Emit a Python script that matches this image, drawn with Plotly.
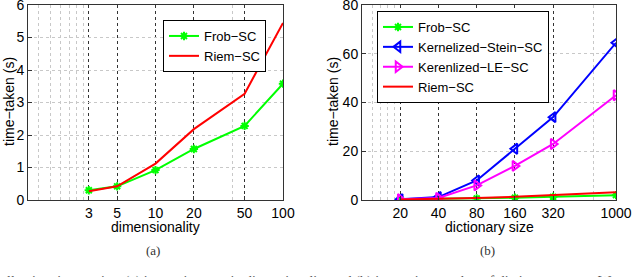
import plotly.graph_objects as go

# ---- data ----
dims = [3, 5, 10, 20, 50, 100]
frob_a = [0.30, 0.42, 0.92, 1.57, 2.28, 3.58]
riem_a = [0.27, 0.42, 1.12, 2.18, 3.27, 5.45]

dict_sizes = [20, 40, 80, 160, 320, 1000]
frob_b = [0.3, 0.4, 0.6, 0.9, 1.3, 2.0]
stein_b = [0.3, 1.2, 8.0, 21.0, 34.0, 64.5]
le_b = [0.3, 0.8, 6.0, 14.0, 23.0, 43.0]
riem_b = [0.2, 0.4, 0.8, 1.3, 2.0, 3.2]

xticks_a = [3, 5, 10, 20, 50, 100]
xticks_b = [20, 40, 80, 160, 320, 1000]
yticks_a = [0, 1, 2, 3, 4, 5, 6]
yticks_b = [0, 20, 40, 60, 80]
minor_a = [1.2, 1.5, 1.8, 2.1, 2.4, 2.7, 40]
minor_b = [12, 14, 16, 18, 660]

GREEN = "#00FF00"
RED = "#FF0000"
BLUE = "#0000FF"
MAG = "#FF00FF"
FONT = "Liberation Sans, Arial, sans-serif"
SERIF = "Liberation Serif, serif"

fig = go.Figure()

# left panel
fig.add_trace(go.Scatter(x=dims, y=frob_a, name="Frob−SC", mode="lines+markers",
                         line=dict(color=GREEN, width=2),
                         marker=dict(symbol="asterisk-open", size=7, line=dict(color=GREEN, width=2)),
                         xaxis="x", yaxis="y", legend="legend"))
fig.add_trace(go.Scatter(x=dims, y=riem_a, name="Riem−SC", mode="lines",
                         line=dict(color=RED, width=2),
                         xaxis="x", yaxis="y", legend="legend"))

# right panel
fig.add_trace(go.Scatter(x=dict_sizes, y=frob_b, name="Frob−SC", mode="lines+markers",
                         line=dict(color=GREEN, width=2),
                         marker=dict(symbol="asterisk-open", size=7, line=dict(color=GREEN, width=2)),
                         xaxis="x2", yaxis="y2", legend="legend2"))
fig.add_trace(go.Scatter(x=dict_sizes, y=stein_b, name="Kernelized−Stein−SC", mode="lines+markers",
                         line=dict(color=BLUE, width=2),
                         marker=dict(symbol="triangle-left-open", size=9, line=dict(color=BLUE, width=2)),
                         xaxis="x2", yaxis="y2", legend="legend2"))
fig.add_trace(go.Scatter(x=dict_sizes, y=le_b, name="Kerenlized−LE−SC", mode="lines+markers",
                         line=dict(color=MAG, width=2),
                         marker=dict(symbol="triangle-right-open", size=9, line=dict(color=MAG, width=2)),
                         xaxis="x2", yaxis="y2", legend="legend2"))
fig.add_trace(go.Scatter(x=dict_sizes, y=riem_b, name="Riem−SC", mode="lines",
                         line=dict(color=RED, width=2),
                         xaxis="x2", yaxis="y2", legend="legend2"))

W, H = 640, 277
L, R, T, B = 28, 24, 5, 77
pw = W - L - R
ph = H - T - B


def px_x(p):
    return (p - L) / pw


def px_y(p):
    return (H - B - p) / ph


axis_common = dict(showline=True, linecolor="#333333", linewidth=1, mirror=True,
                   ticks="inside", ticklen=4, tickcolor="#333333",
                   tickfont=dict(family=FONT, size=14, color="black"),
                   zeroline=False, automargin=False, ticklabeloverflow="allow")

xa = dict(axis_common, type="log", tickmode="array",
          showgrid=True, gridcolor="#333333", griddash="dot", gridwidth=1)

fig.update_layout(
    width=W, height=H,
    margin=dict(l=L, r=R, t=T, b=B, autoexpand=False),
    paper_bgcolor="white", plot_bgcolor="white",
    xaxis=dict(xa, domain=[0, px_x(283)], range=[0, 2], tickvals=xticks_a,
               ticktext=[str(v) for v in xticks_a], anchor="y",
               minor=dict(tickvals=minor_a, showgrid=True, gridcolor="#c8c8c8",
                          griddash="dot", gridwidth=1, ticks="")),
    xaxis2=dict(xa, domain=[px_x(362), 1], range=[1, 3], tickvals=xticks_b,
                ticktext=[str(v) for v in xticks_b], anchor="y2",
                minor=dict(tickvals=minor_b, showgrid=True, gridcolor="#c8c8c8",
                           griddash="dot", gridwidth=1, ticks="")),
    yaxis=dict(axis_common, range=[0, 6], tickvals=yticks_a, anchor="x",
               showgrid=True, gridcolor="#c8c8c8", griddash="dot"),
    yaxis2=dict(axis_common, range=[0, 80], tickvals=yticks_b, anchor="x2",
                showgrid=True, gridcolor="#c8c8c8", griddash="dot"),
    legend=dict(x=px_x(163), y=px_y(20), xanchor="left", yanchor="top",
                bgcolor="white", bordercolor="black", borderwidth=1,
                font=dict(family=FONT, size=13, color="black"),
                tracegroupgap=0, itemwidth=30),
    legend2=dict(x=px_x(377), y=px_y(11), xanchor="left", yanchor="top",
                 bgcolor="white", bordercolor="black", borderwidth=1,
                 font=dict(family=FONT, size=13, color="black"),
                 tracegroupgap=0, itemwidth=30),
    showlegend=True,
)

# axis titles
for txt, xp in [("dimensionality", 155), ("dictionary size", 489)]:
    fig.add_annotation(text=txt, x=px_x(xp), y=px_y(227), xref="paper", yref="paper",
                       xanchor="center", yanchor="middle",
                       showarrow=False, font=dict(family=FONT, size=14, color="black"))
for xp in [9, 333]:
    fig.add_annotation(text="time−taken (s)", x=px_x(xp), y=px_y(102), xref="paper", yref="paper",
                       xanchor="center", yanchor="middle",
                       showarrow=False, textangle=-90, font=dict(family=FONT, size=14, color="black"))

fig.add_annotation(text="(a)", x=px_x(153), y=px_y(250), xref="paper", yref="paper",
                   xanchor="center", yanchor="middle",
                   showarrow=False, font=dict(family=SERIF, size=13, color="#333333"))
fig.add_annotation(text="(b)", x=px_x(487), y=px_y(250), xref="paper", yref="paper",
                   xanchor="center", yanchor="middle",
                   showarrow=False, font=dict(family=SERIF, size=13, color="#333333"))
fig.add_annotation(text="llowing time against (a) increasing matrix dimensionality and (b) increasing number of dictionary atoms. We use",
                   x=px_x(5), y=px_y(272), xref="paper", yref="paper", xanchor="left", yanchor="top",
                   showarrow=False, font=dict(family=SERIF, size=14, color="#555555"))

fig.write_html("out.html", config={"displayModeBar": False},
               post_script="document.body.style.margin='0';document.body.style.overflow='hidden';")
